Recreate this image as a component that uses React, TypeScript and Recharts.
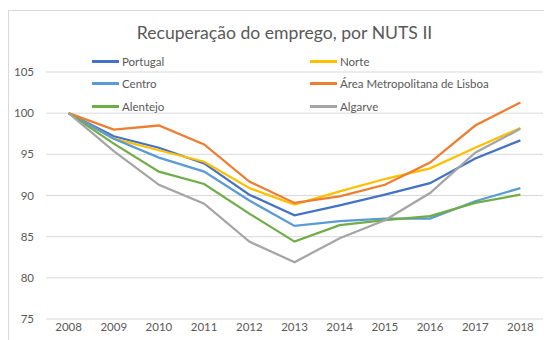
import { LineChart, Line, XAxis, YAxis, CartesianGrid } from "recharts";

const years = ["2008", "2009", "2010", "2011", "2012", "2013", "2014", "2015", "2016", "2017", "2018"];

const portugal = [100, 97.2, 95.8, 93.9, 90.1, 87.6, 88.8, 90.1, 91.5, 94.5, 96.7];
const norte = [100, 96.9, 95.5, 94.1, 90.9, 88.9, 90.5, 92.0, 93.3, 95.8, 98.2];
const centro = [100, 96.9, 94.6, 92.9, 89.4, 86.3, 86.9, 87.2, 87.2, 89.3, 90.9];
const lisboa = [100, 98.0, 98.5, 96.2, 91.7, 89.1, 89.9, 91.3, 94.0, 98.5, 101.3];
const alentejo = [100, 96.3, 92.9, 91.4, 87.8, 84.4, 86.4, 87.0, 87.5, 89.1, 90.1];
const algarve = [100, 95.4, 91.3, 89.0, 84.4, 81.9, 84.8, 87.0, 90.3, 95.2, 98.1];

const yTicks = [75, 80, 85, 90, 95, 100, 105];

const series = [
  { key: "portugal", name: "Portugal", values: portugal, color: "#4472C4" },
  { key: "norte", name: "Norte", values: norte, color: "#FFC000" },
  { key: "centro", name: "Centro", values: centro, color: "#5B9BD5" },
  { key: "lisboa", name: "Área Metropolitana de Lisboa", values: lisboa, color: "#ED7D31" },
  { key: "alentejo", name: "Alentejo", values: alentejo, color: "#70AD47" },
  { key: "algarve", name: "Algarve", values: algarve, color: "#A5A5A5" },
];

const data = years.map((year, i) => {
  const row: Record<string, string | number> = { year };
  series.forEach(s => { row[s.key] = s.values[i]; });
  return row;
});

const FONT = "Lato, 'Open Sans', sans-serif";
const TEXT = "#595959";

// two-column legend, laid over the top of the plot like the Excel original
function LegendGrid() {
  return (
    <div
      style={{
        position: "absolute",
        left: 84,
        top: 42.5,
        display: "grid",
        gridTemplateColumns: "218px 220px",
        fontFamily: FONT,
        fontSize: 11.5,
        color: TEXT,
        zIndex: 1,
      }}
    >
      {series.map(s => (
        <div key={s.key} style={{ display: "flex", alignItems: "center", height: 22.3 }}>
          <span style={{ width: 27, height: 3, background: s.color, marginRight: 3 }} />
          <span>{s.name}</span>
        </div>
      ))}
    </div>
  );
}

export default function App() {
  return (
    <div style={{ position: "relative", width: 544, height: 332, overflow: "hidden", background: "#fff" }}>
      <div
        style={{
          position: "absolute",
          left: 0,
          top: 2,
          width: 600,
          height: 400,
          border: "1px solid #d9d9d9",
        }}
      />
      <div
        style={{
          position: "absolute",
          left: 276.5,
          top: 15,
          transform: "translateX(-50%)",
          whiteSpace: "nowrap",
          fontFamily: FONT,
          fontSize: 17.6,
          lineHeight: "20px",
          color: TEXT,
        }}
      >
        Recuperação do emprego, por NUTS II
      </div>
      <LineChart
        width={544}
        height={332}
        data={data}
        margin={{ top: 64, right: 9, bottom: 0, left: 0 }}
        style={{ position: "absolute", left: 0, top: 0 }}
      >
        <CartesianGrid vertical={false} stroke="#d9d9d9" strokeWidth={1} />
        <XAxis
          dataKey="year"
          height={21}
          padding={{ left: 22.6, right: 22.6 }}
          axisLine={false}
          tickLine={false}
          tickSize={0}
          tickMargin={4}
          interval={0}
          tick={{ fill: TEXT, fontSize: 11.5, fontFamily: FONT }}
        />
        <YAxis
          domain={[75, 105]}
          ticks={yTicks}
          width={38}
          axisLine={false}
          tickLine={false}
          tickSize={0}
          tickMargin={12}
          tick={{ fill: TEXT, fontSize: 11.5, fontFamily: FONT }}
        />
        {series.map(s => (
          <Line
            key={s.key}
            dataKey={s.key}
            name={s.name}
            stroke={s.color}
            strokeWidth={2.25}
            dot={false}
            isAnimationActive={false}
          />
        ))}
      </LineChart>
      <LegendGrid />
    </div>
  );
}
